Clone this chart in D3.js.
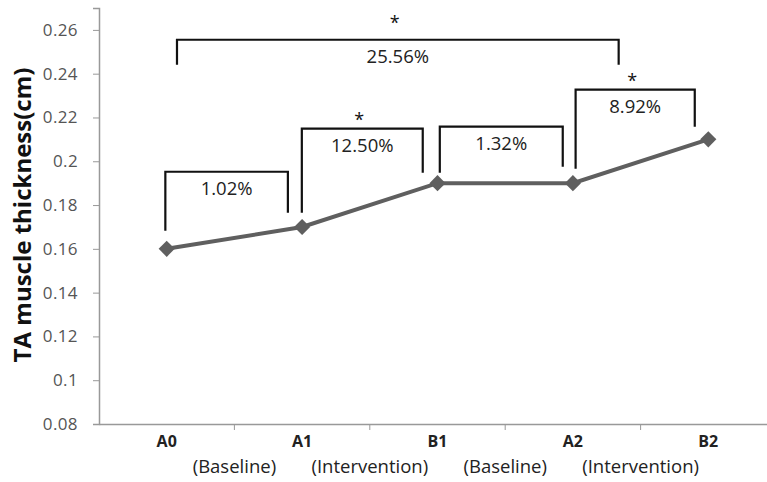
<!DOCTYPE html>
<meta charset="utf-8">
<script src="https://d3js.org/d3.v7.min.js"></script>
<style>
  body { margin: 0; background: #fff; }
  text { font-family: "Open Sans", "Noto Sans", sans-serif; }
</style>
<svg id="chart" width="767" height="482"></svg>
<script>

// Data
var categories = ["A0", "A1", "B1", "A2", "B2"];
var subLabels = ["(Baseline)", "(Intervention)", "(Baseline)", "(Intervention)"];
var thickness = [0.16, 0.17, 0.19, 0.19, 0.21];
var yTicks = [0.08, 0.1, 0.12, 0.14, 0.16, 0.18, 0.2, 0.22, 0.24, 0.26];

// Brackets: x in category index units, y in data units
var bracketLabels = ["1.02%", "12.50%", "1.32%", "8.92%", "25.56%"];
var bracketStars  = [false, true, false, true, true];
var bracketX0     = [-0.01, 0.998, 2.017, 3.02, 0.076];
var bracketX1     = [0.895, 1.891, 2.925, 3.90, 3.338];
var bracketTop    = [0.1952, 0.2149, 0.2158, 0.2327, 0.2555];
var bracketLeft   = [0.1683, 0.1765, 0.1947, 0.1966, 0.2441];
var bracketRight  = [0.1765, 0.1947, 0.1975, 0.2158, 0.2441];
var starGap       = [0, 5, 0, 5, 13];

var svg = d3.select("#chart");
var margin = { left: 99, top: 8 };
var plotW = 677, plotH = 416;

var g = svg.append("g").attr("transform", "translate(" + margin.left + "," + margin.top + ")");

var x = d3.scaleBand().domain(categories).range([0, plotW]);
var xi = d3.scaleLinear().domain([0, 1]).range([x.bandwidth() / 2, x.bandwidth() * 1.5]);
var y = d3.scaleLinear().domain([0.08, 0.27]).range([plotH, 0]);

// Y axis
var yAxis = g.append("g").call(d3.axisLeft(y).tickValues(yTicks).tickSize(6).tickPadding(15)
  .tickFormat(function (d) { return d3.format("")(+d.toFixed(2)); }));
yAxis.select(".domain").attr("stroke", "#999").attr("stroke-width", 1.5);
yAxis.selectAll(".tick line").attr("stroke", "#999");
yAxis.selectAll(".tick text").attr("fill", "#555").style("font-size", "17px").style("letter-spacing", "0.4px");

// X axis
var xAxis = g.append("g").attr("transform", "translate(0," + plotH + ")")
  .call(d3.axisBottom(x).tickSize(0).tickFormat(""));
xAxis.select(".domain").attr("stroke", "#999").attr("stroke-width", 1.5);
xAxis.selectAll(".tick").remove();

var bounds = categories.slice(1);
xAxis.selectAll(".bt").data(bounds).enter().append("line")
  .attr("x1", function (d) { return x(d); }).attr("x2", function (d) { return x(d); })
  .attr("y1", 0).attr("y2", 6).attr("stroke", "#999");

xAxis.selectAll(".cat").data(categories).enter().append("text")
  .attr("x", function (d) { return x(d) + x.bandwidth() / 2; })
  .attr("y", 23)
  .attr("text-anchor", "middle")
  .attr("fill", "#222")
  .style("font-size", "16px").style("font-weight", "bold")
  .text(function (d) { return d; });

xAxis.selectAll(".sub").data(subLabels).enter().append("text")
  .attr("x", function (d, i) { return x(bounds[i]); })
  .attr("y", 49)
  .attr("text-anchor", "middle")
  .attr("fill", "#222")
  .style("font-size", "18.5px")
  .text(function (d) { return d; });

// Y title
svg.append("text")
  .attr("transform", "translate(31," + (margin.top + 207) + ") rotate(-90)")
  .attr("text-anchor", "middle")
  .attr("fill", "#111")
  .style("font-size", "24px").style("font-weight", "bold")
  .text("TA muscle thickness(cm)");

// Line
var line = d3.line()
  .x(function (d, i) { return x(categories[i]) + x.bandwidth() / 2; })
  .y(function (d) { return y(d); });

g.append("path").datum(thickness)
  .attr("d", line)
  .attr("fill", "none")
  .attr("stroke", "#5f5f5f")
  .attr("stroke-width", 4);

g.selectAll(".pt").data(thickness).enter().append("path")
  .attr("d", d3.symbol().type(d3.symbolSquare).size(130))
  .attr("transform", function (d, i) {
    return "translate(" + (x(categories[i]) + x.bandwidth() / 2) + "," + y(d) + ") rotate(45)";
  })
  .attr("fill", "#5f5f5f");

// Brackets
bracketLabels.forEach(function (lab, i) {
  var x0 = xi(bracketX0[i]), x1 = xi(bracketX1[i]);
  var yt = y(bracketTop[i]);
  g.append("path")
    .attr("d", "M" + x0 + "," + y(bracketLeft[i]) + "V" + yt + "H" + x1 + "V" + y(bracketRight[i]))
    .attr("fill", "none").attr("stroke", "#111").attr("stroke-width", 2.2);
  var cx = (x0 + x1) / 2;
  g.append("text")
    .attr("x", cx).attr("y", yt + 23)
    .attr("text-anchor", "middle").attr("fill", "#222")
    .style("font-size", "18.5px")
    .text(lab);
  if (bracketStars[i]) {
    g.append("text")
      .attr("x", cx - 3).attr("y", yt + 2 - starGap[i])
      .attr("text-anchor", "middle").attr("fill", "#111")
      .style("font-size", "18px")
      .text("*");
  }
});

</script>
